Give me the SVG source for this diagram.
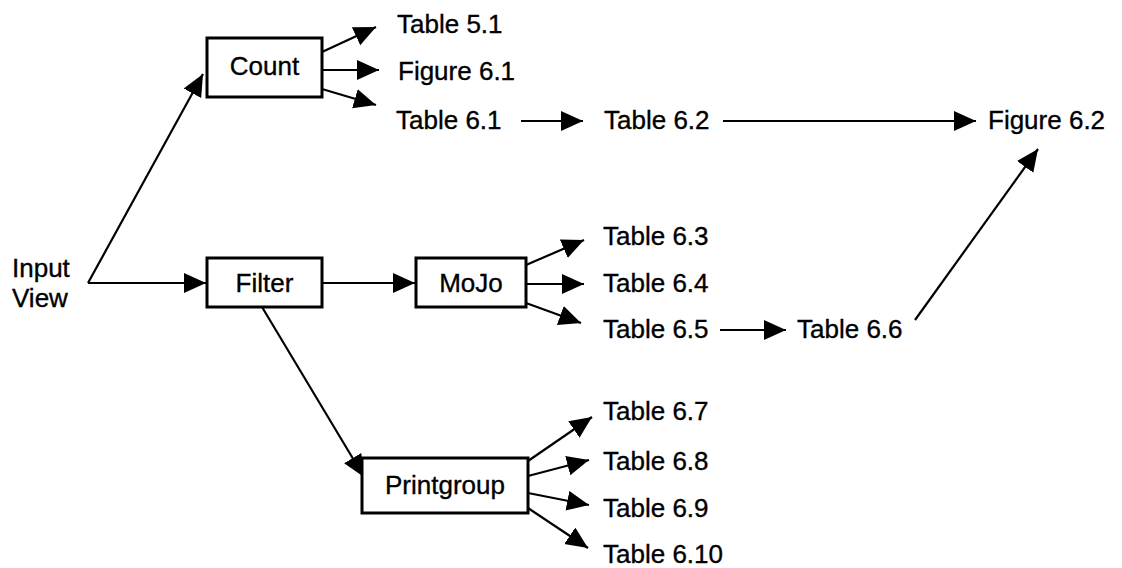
<svg xmlns="http://www.w3.org/2000/svg" width="1122" height="568" viewBox="0 0 1122 568">
<defs>
<marker id="ah" markerUnits="userSpaceOnUse" markerWidth="24" markerHeight="22" refX="22" refY="10" orient="auto">
<path d="M0,0 L22,10 L0,20 z" fill="#000"/>
</marker>
<style>
.t{font-family:"Liberation Sans",Arial,sans-serif;font-size:26px;fill:#000;stroke:#000;stroke-width:0.35}
.c{text-anchor:middle}
.b{fill:#fff;stroke:#000;stroke-width:3}
.e{fill:none;stroke:#000;stroke-width:2.2;marker-end:url(#ah)}
</style>
</defs>
<rect width="1122" height="568" fill="#fff"/>
<g id="connectors">
<line class="e" x1="88" y1="283" x2="206" y2="283"/>
<line class="e" x1="88" y1="283" x2="203" y2="74"/>
<line class="e" x1="322" y1="52" x2="376" y2="27"/>
<line class="e" x1="322" y1="70" x2="379" y2="70"/>
<line class="e" x1="322" y1="89" x2="376" y2="105"/>
<line class="e" x1="521" y1="121" x2="583" y2="121"/>
<line class="e" x1="723" y1="121" x2="976" y2="121"/>
<line class="e" x1="322" y1="283" x2="415" y2="283"/>
<line class="e" x1="526" y1="265" x2="584" y2="240"/>
<line class="e" x1="527" y1="284" x2="584" y2="284"/>
<line class="e" x1="526" y1="303" x2="581" y2="323"/>
<line class="e" x1="720" y1="330" x2="786" y2="330"/>
<line class="e" x1="915" y1="320" x2="1038" y2="149"/>
<line class="e" x1="262" y1="307" x2="364" y2="477"/>
<line class="e" x1="528" y1="461" x2="592" y2="417"/>
<line class="e" x1="528" y1="476" x2="589" y2="460"/>
<line class="e" x1="528" y1="493" x2="589" y2="505"/>
<line class="e" x1="528" y1="508" x2="588" y2="548"/>
</g>
<g id="input-view">
<text class="t" x="12" y="277">Input</text>
<text class="t" x="12" y="307">View</text>
</g>
<g id="count">
<rect class="b" x="207" y="38" width="115" height="59"/>
<text class="t c" x="264.5" y="75">Count</text>
</g>
<g id="filter">
<rect class="b" x="207" y="258" width="115" height="49"/>
<text class="t c" x="264.5" y="292">Filter</text>
</g>
<g id="mojo">
<rect class="b" x="416" y="258" width="110" height="49"/>
<text class="t c" x="471" y="292">MoJo</text>
</g>
<g id="printgroup">
<rect class="b" x="362" y="458" width="166" height="55"/>
<text class="t c" x="445" y="494">Printgroup</text>
</g>
<g id="table-5-1"><text class="t" x="397" y="33">Table 5.1</text></g>
<g id="figure-6-1"><text class="t" x="398" y="80">Figure 6.1</text></g>
<g id="table-6-1"><text class="t" x="396" y="129">Table 6.1</text></g>
<g id="table-6-2"><text class="t" x="604" y="129">Table 6.2</text></g>
<g id="figure-6-2"><text class="t" x="988" y="129">Figure 6.2</text></g>
<g id="table-6-3"><text class="t" x="603" y="245">Table 6.3</text></g>
<g id="table-6-4"><text class="t" x="603" y="292">Table 6.4</text></g>
<g id="table-6-5"><text class="t" x="603" y="338">Table 6.5</text></g>
<g id="table-6-6"><text class="t" x="797" y="338">Table 6.6</text></g>
<g id="table-6-7"><text class="t" x="603" y="420">Table 6.7</text></g>
<g id="table-6-8"><text class="t" x="603" y="470">Table 6.8</text></g>
<g id="table-6-9"><text class="t" x="603" y="517">Table 6.9</text></g>
<g id="table-6-10"><text class="t" x="603" y="563">Table 6.10</text></g>
</svg>
